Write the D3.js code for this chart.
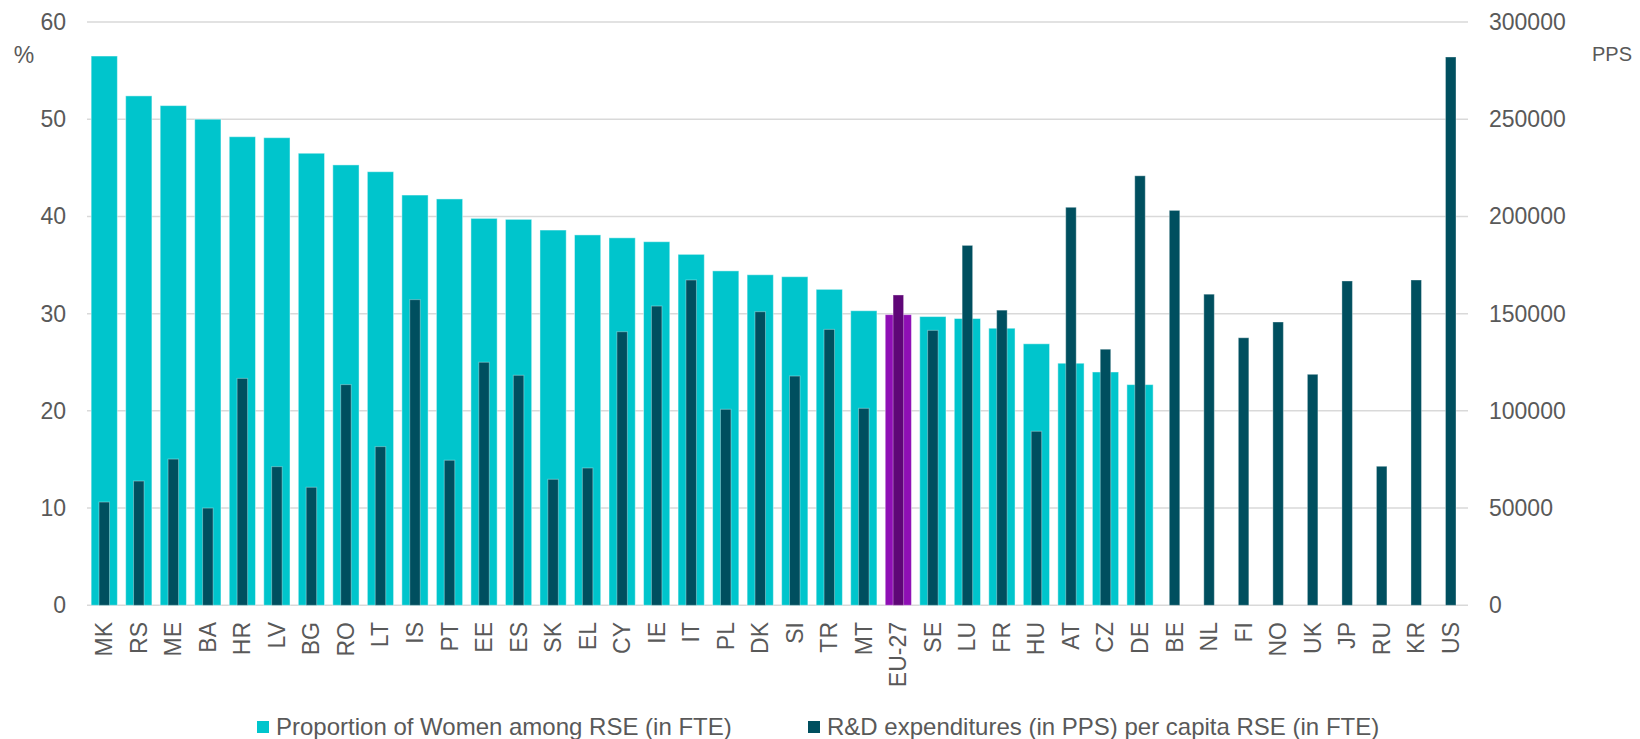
<!DOCTYPE html>
<html><head><meta charset="utf-8">
<script src="https://cdn.jsdelivr.net/npm/d3@7"></script>
<style>body{margin:0;background:#fff}text{font-family:"Liberation Sans",Arial,sans-serif;fill:#595959}</style>
</head><body><svg id="c" width="1640" height="739"></svg>
<script>
const categories = ["MK","RS","ME","BA","HR","LV","BG","RO","LT","IS","PT","EE","ES","SK","EL","CY","IE","IT","PL","DK","SI","TR","MT","EU-27","SE","LU","FR","HU","AT","CZ","DE","BE","NL","FI","NO","UK","JP","RU","KR","US"];
const womenShare = [56.5,52.4,51.4,50.0,48.2,48.1,46.5,45.3,44.6,42.2,41.8,39.8,39.7,38.6,38.1,37.8,37.4,36.1,34.4,34.0,33.8,32.5,30.3,29.9,29.7,29.5,28.5,26.9,24.9,24.0,22.7,null,null,null,null,null,null,null,null,null];
const rdPerRse = [53100,63900,75200,50000,116700,71300,60700,113500,81600,157200,74600,125000,118300,64800,70600,140700,153900,167300,100800,151000,117900,141900,101300,159600,141400,185100,151800,89500,204700,131700,220900,203100,160000,137600,145700,118800,166800,71500,167300,282000];
const leftTicks = [0,10,20,30,40,50,60];
const rightTicks = [0,50000,100000,150000,200000,250000,300000];
const seriesNames = ["Proportion of Women among RSE (in FTE)","R&D expenditures (in PPS) per capita RSE (in FTE)"];
const highlight = "EU-27";

const svg = d3.select("#c");
const m = {l:87, r:1468, t:22, b:605.3};
const x = d3.scaleBand().domain(categories).range([m.l, m.r]).paddingInner(0.24).paddingOuter(0.12);
const yL = d3.scaleLinear().domain([0,60]).range([m.b, m.t]);
const yR = d3.scaleLinear().domain([0,300000]).range([m.b, m.t]);
const cLight="#00C5CC", cDark="#004F5F", pLight="#8F0FB5", pDark="#5F0677";
const fs = 23;

// gridlines
svg.append("g").selectAll("line").data(leftTicks).join("line")
  .attr("x1",m.l).attr("x2",m.r).attr("y1",d=>yL(d)).attr("y2",d=>yL(d))
  .attr("stroke","#D9D9D9").attr("stroke-width",1.5);

// left axis
const gl = svg.append("g").attr("transform",`translate(${m.l-21},0)`)
  .call(d3.axisLeft(yL).tickValues(leftTicks).tickSize(0).tickPadding(0));
gl.select(".domain").remove();
gl.selectAll("text").style("font-size",fs+"px").attr("fill","#595959");
// right axis
const gr = svg.append("g").attr("transform",`translate(${m.r+21},0)`)
  .call(d3.axisRight(yR).tickValues(rightTicks).tickSize(0).tickPadding(0).tickFormat(d3.format("d")));
gr.select(".domain").remove();
gr.selectAll("text").style("font-size",fs+"px").attr("fill","#595959");

svg.append("text").attr("x",24).attr("y",63).attr("text-anchor","middle").style("font-size",fs+"px").text("%");
svg.append("text").attr("x",1612).attr("y",61).attr("text-anchor","middle").style("font-size","20px").text("PPS");

// light bars
const data = categories.map((c,i)=>({c, w:womenShare[i], r:rdPerRse[i]}));
const bw = x.bandwidth(), dw = 10.5;
svg.append("g").selectAll("rect").data(data.filter(d=>d.w!=null)).join("rect")
  .attr("x",d=>x(d.c)).attr("width",bw)
  .attr("y",d=>yL(d.w)).attr("height",d=>yL(0)-yL(d.w))
  .attr("fill",d=>d.c===highlight?pLight:cLight)
  .attr("stroke","rgba(255,255,255,0.45)").attr("stroke-width",1);
// dark bars
svg.append("g").selectAll("rect").data(data).join("rect")
  .attr("x",d=>x(d.c)+bw/2-dw/2).attr("width",dw)
  .attr("y",d=>yR(d.r)).attr("height",d=>yR(0)-yR(d.r))
  .attr("fill",d=>d.c===highlight?pDark:cDark)
  .attr("stroke","rgba(255,255,255,0.35)").attr("stroke-width",1);

// category labels
svg.append("g").selectAll("text").data(categories).join("text")
  .attr("transform",d=>`translate(${x(d)+bw/2+8},622) rotate(-90)`)
  .attr("text-anchor","end").style("font-size",fs+"px").text(d=>d);

// legend
const lg = svg.append("g");
const items = [{n:seriesNames[0],c:cLight,x:257},{n:seriesNames[1],c:cDark,x:808}];
items.forEach(it=>{
  lg.append("rect").attr("x",it.x).attr("y",721).attr("width",12).attr("height",12).attr("fill",it.c);
  lg.append("text").attr("x",it.x+19).attr("y",735).style("font-size","24px").text(it.n);
});
</script></body></html>
